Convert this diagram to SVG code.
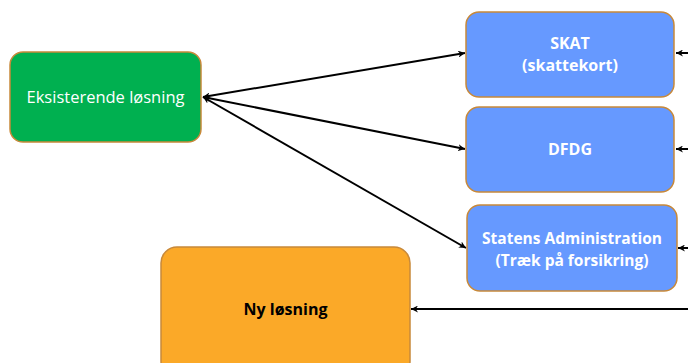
<svg xmlns="http://www.w3.org/2000/svg" width="688" height="363" viewBox="0 0 688 363">
<defs>
<marker id="ah" viewBox="0 0 10 10" refX="10" refY="5" markerWidth="7" markerHeight="7" orient="auto-start-reverse" markerUnits="userSpaceOnUse">
<path d="M0,0 L10,5 L0,10 L3,5 Z" fill="#000"/>
</marker>
</defs>
<style>
.box{stroke:#C8893A;stroke-width:1.5}
.wt{fill:#fff;font-family:"Open Sans","Liberation Sans",sans-serif;font-size:16px;text-anchor:middle}
.b{font-weight:bold}
.c{stroke:#000;stroke-width:2;fill:none}
</style>
<g id="connectors">
<line class="c" x1="203" y1="97" x2="465" y2="53" marker-start="url(#ah)" marker-end="url(#ah)"/>
<line class="c" x1="203" y1="97" x2="465" y2="149" marker-start="url(#ah)" marker-end="url(#ah)"/>
<line class="c" x1="203" y1="97" x2="466" y2="248" marker-start="url(#ah)" marker-end="url(#ah)"/>
<line class="c" x1="690" y1="53" x2="676" y2="53" marker-end="url(#ah)"/>
<line class="c" x1="690" y1="149" x2="676" y2="149" marker-end="url(#ah)"/>
<line class="c" x1="690" y1="248" x2="678" y2="248" marker-end="url(#ah)"/>
<line class="c" x1="690" y1="309" x2="411" y2="309" marker-end="url(#ah)"/>
</g>
<g id="eksisterende">
<rect class="box" x="10" y="52" width="191" height="90" rx="13" fill="#00B050"/>
<text class="wt" x="105.5" y="103" style="font-size:16.5px">Eksisterende løsning</text>
</g>
<g id="skat">
<rect class="box" x="466" y="12" width="208" height="85" rx="13" fill="#6699FF"/>
<text class="wt b" x="570" y="49">SKAT</text>
<text class="wt b" x="570" y="71">(skattekort)</text>
</g>
<g id="dfdg">
<rect class="box" x="466" y="107" width="208" height="85" rx="13" fill="#6699FF"/>
<text class="wt b" x="570" y="155">DFDG</text>
</g>
<g id="statens">
<rect class="box" x="467" y="205" width="210" height="86" rx="13" fill="#6699FF"/>
<text class="wt b" x="572" y="244" style="font-size:15.5px">Statens Administration</text>
<text class="wt b" x="572" y="266" style="font-size:15.5px">(Træk på forsikring)</text>
</g>
<g id="ny">
<rect class="box" x="161" y="247" width="249" height="130" rx="16" fill="#FBA928"/>
<text class="wt b" x="285.5" y="315" style="fill:#000">Ny løsning</text>
</g>
</svg>
